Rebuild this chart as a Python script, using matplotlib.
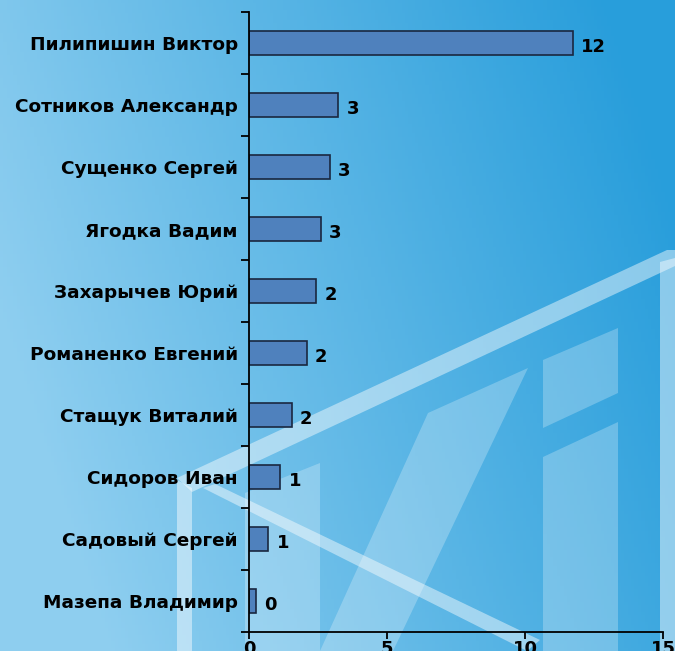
import numpy as np
import matplotlib
matplotlib.use("Agg")
import matplotlib.pyplot as plt
from matplotlib.patches import Polygon

plt.rcParams['font.family'] = ['DejaVu Sans']

names = ["Пилипишин Виктор", "Сотников Александр", "Сущенко Сергей",
         "Ягодка Вадим", "Захарычев Юрий", "Романенко Евгений",
         "Стащук Виталий", "Сидоров Иван", "Садовый Сергей",
         "Мазепа Владимир"]
values = [11.73, 3.23, 2.93, 2.60, 2.43, 2.09, 1.54, 1.14, 0.70, 0.25]
labels = ["12", "3", "3", "3", "2", "2", "2", "1", "1", "0"]
xticks = [0, 5, 10, 15]

W, H = 675, 651
fig = plt.figure(figsize=(W / 100, H / 100), dpi=100)

# background: blue gradient + pale "XI" emblem
bg = fig.add_axes([0, 0, 1, 1], zorder=0)
xx, yy = np.meshgrid(np.linspace(0, 1, 200), np.linspace(0, 1, 200))
left_c = np.array([0.56, 0.81, 0.94])
right_c = np.array([0.16, 0.62, 0.86])
t = np.clip(xx * 0.95 - (yy - 0.5) * 0.3, 0, 1)[..., None]
img = left_c * (1 - t) + right_c * t
bg.imshow(img, extent=[0, W, H, 0], aspect='auto')
frame = [
    [(177, 478), (667, 250), (675, 250), (675, 266), (192, 492)],
    [(660, 262), (675, 258), (675, 651), (660, 651)],
    [(177, 480), (192, 488), (192, 651), (177, 651)],
    [(203, 488), (215, 484), (540, 640), (527, 651)],
]
emblem = [
    [(245, 493), (320, 463), (320, 651), (245, 651)],
    [(428, 413), (528, 368), (393, 651), (320, 651)],
    [(543, 360), (618, 328), (618, 393), (543, 428)],
    [(543, 457), (618, 422), (618, 651), (543, 651)],
]
for s in frame:
    bg.add_patch(Polygon(s, closed=True, facecolor='white', alpha=0.45,
                         edgecolor='none'))
for s in emblem:
    bg.add_patch(Polygon(s, closed=True, facecolor='white', alpha=0.25,
                         edgecolor='none'))
bg.set_xlim(0, W)
bg.set_ylim(H, 0)
bg.axis('off')

ax = fig.add_axes([249 / W, 1 - 632 / H, (663 - 249) / W, (632 - 12) / H],
                  zorder=1)
ax.patch.set_alpha(0)
y = np.arange(len(names))[::-1]
ax.barh(y, values, height=0.4, color='#4F81BD', edgecolor='#1a2740',
        linewidth=1.2)
for yi, v, lab in zip(y, values, labels):
    ax.text(v + 0.3, yi - 0.06, lab, va='center', ha='left',
            fontsize=13, fontweight='bold', color='black')

ax.set_xlim(0, 15)
ax.set_ylim(-0.5, 9.5)
ax.set_xticks(xticks)
ax.set_yticks(y)
ax.set_yticklabels(names, fontsize=13.3, fontweight='bold')
ax.set_yticks(np.arange(-0.5, 10, 1), minor=True)
ax.tick_params(axis='y', which='major', length=0, pad=8)
ax.tick_params(axis='y', which='minor', length=6, width=1.3)
ax.tick_params(axis='x', length=5, width=1.3, labelsize=13, pad=1)
for lab in ax.get_xticklabels():
    lab.set_fontweight('bold')
ax.spines['top'].set_visible(False)
ax.spines['right'].set_visible(False)
ax.spines['left'].set_linewidth(1.3)
ax.spines['bottom'].set_linewidth(1.3)

fig.savefig('out.png', dpi=100)
